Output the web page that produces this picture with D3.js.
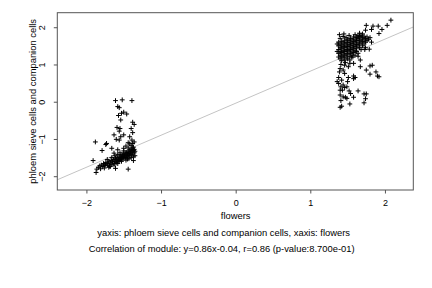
<!DOCTYPE html>
<html>
<head>
<meta charset="utf-8">
<script src="https://cdn.jsdelivr.net/npm/d3@7"></script>
<style>
  body { margin: 0; background: #fff; }
  text { font-family: "Liberation Sans", Arial, sans-serif; }
</style>
</head>
<body>
<div id="container"></div>
<script>
/* DATA */
const xTicks = [-2, -1, 0, 1, 2];
const yTicks = [-2, -1, 0, 1, 2];
const xLabel = "flowers";
const yLabel = "phloem sieve cells and companion cells";
const subtitle1 = "yaxis: phloem sieve cells and companion cells, xaxis: flowers";
const subtitle2 = "Correlation of module: y=0.86x-0.04, r=0.86 (p-value:8.700e-01)";
const slope = 0.86, intercept = -0.04;

// left cluster (x, y pairs)
const leftX = [-1.61,-1.52,-1.39,-1.58,-1.56,-1.50,-1.53,-1.57,-1.46,-1.54,-1.38,-1.36,-1.59,-1.55,-1.56,-1.40,-1.63,-1.54,-1.50,-1.60,-1.56,-1.42,-1.38,-1.39,-1.88,-1.73,-1.74,-1.79,-1.66,-1.63,-1.58,-1.50,-1.47,-1.44,-1.42,-1.87,-1.86,-1.91,-1.75,-1.68,-1.61,-1.44,-1.37,-1.45,
  -1.84,-1.82,-1.80,-1.78,-1.77,-1.75,-1.74,-1.72,-1.71,-1.70,-1.69,-1.68,-1.67,-1.66,-1.65,-1.64,-1.63,-1.62,-1.61,-1.60,-1.60,-1.59,-1.58,-1.57,-1.56,-1.56,-1.55,-1.54,-1.54,-1.53,-1.52,-1.52,-1.51,-1.50,-1.50,-1.49,-1.48,-1.48,-1.47,-1.46,-1.46,-1.45,-1.44,-1.44,-1.43,-1.42,-1.42,-1.41,-1.40,-1.40,-1.39,-1.38,-1.38,-1.37,-1.37,-1.36,-1.36,-1.35,-1.35,-1.37,-1.40,-1.43,-1.47,-1.53,-1.58,-1.63,-1.70,-1.76,-1.81,-1.72,-1.66,-1.58,-1.50,-1.44,-1.40,-1.38,-1.36,-1.62,-1.55];
const leftY = [0.03,0.05,0.03,-0.13,-0.16,-0.28,-0.31,-0.37,-0.33,-0.49,-0.55,-0.61,-0.69,-0.72,-0.79,-0.72,-0.89,-0.94,-0.89,-1.01,-1.03,-0.94,-0.83,-1.03,-1.08,-1.12,-1.15,-1.31,-1.25,-1.38,-1.29,-1.25,-1.19,-1.10,-1.13,-1.90,-1.81,-1.58,-1.71,-1.74,-1.79,-1.81,-1.58,-1.54,
  -1.76,-1.72,-1.70,-1.74,-1.66,-1.68,-1.63,-1.70,-1.66,-1.60,-1.73,-1.64,-1.58,-1.68,-1.61,-1.55,-1.66,-1.60,-1.52,-1.63,-1.57,-1.50,-1.61,-1.55,-1.48,-1.58,-1.52,-1.45,-1.56,-1.50,-1.42,-1.54,-1.47,-1.40,-1.52,-1.45,-1.38,-1.50,-1.43,-1.36,-1.48,-1.41,-1.33,-1.46,-1.39,-1.30,-1.44,-1.36,-1.28,-1.42,-1.34,-1.25,-1.40,-1.31,-1.22,-1.37,-1.28,-1.33,-1.45,-1.48,-1.50,-1.53,-1.57,-1.60,-1.66,-1.70,-1.76,-1.78,-1.80,-1.55,-1.50,-1.42,-1.32,-1.24,-1.18,-1.12,-1.08,-1.45,-1.37];

// right cluster (x, y pairs)
const rightX = [2.08,2.03,1.91,1.84,1.75,1.96,1.92,1.82,1.74,1.79,1.73,1.83,1.80,1.75,1.80,1.88,1.90,1.92,1.67,1.67,1.58,1.64,1.72,1.75,1.74,1.72,1.64,1.58,1.53,1.49,1.52,1.54,1.47,1.41,1.40,1.42,1.44,1.40,1.41,1.44,1.42,1.38,1.50,1.51,1.58,1.60,1.58,1.46,1.39,1.44,1.51,1.53,1.46,1.40,1.43,1.46,1.40,1.38,1.49,1.36,
  1.38,1.38,1.38,1.38,1.38,1.40,1.40,1.40,1.40,1.40,1.40,1.42,1.42,1.42,1.42,1.42,1.42,1.44,1.44,1.44,1.44,1.44,1.44,1.46,1.46,1.46,1.46,1.46,1.46,1.48,1.48,1.48,1.48,1.48,1.48,1.50,1.50,1.50,1.50,1.50,1.50,1.52,1.52,1.52,1.52,1.52,1.52,1.54,1.54,1.54,1.54,1.54,1.56,1.56,1.56,1.56,1.56,1.58,1.58,1.58,1.58,1.58,1.60,1.60,1.60,1.60,1.60,1.62,1.62,1.62,1.62,1.64,1.64,1.64,1.64,1.66,1.66,1.66,1.66,1.68,1.68,1.68,1.70,1.70,1.70,1.72,1.72,1.72,1.74,1.74,1.76,1.76,1.78,1.70,1.66,1.62,1.57,1.53,1.47,1.41,1.36,1.36,1.39,1.45,1.55,1.60,1.64,1.68,1.74,1.80,1.82];
const rightY = [2.19,2.05,2.03,2.03,2.05,1.94,1.83,1.94,1.92,1.41,1.40,0.98,0.96,0.85,0.74,0.80,0.69,0.67,1.12,0.94,1.03,1.22,0.21,0.21,0.08,-0.03,0.29,0.12,-0.06,0.09,0.29,0.22,0.12,0.03,-0.15,-0.12,0.13,0.31,0.40,0.45,0.58,0.65,0.54,0.65,0.69,0.65,0.62,0.76,0.80,0.85,0.94,1.03,0.98,0.89,0.31,0.38,0.18,0.49,0.40,0.54,
  1.20,1.30,1.40,1.50,1.60,1.15,1.25,1.35,1.45,1.55,1.70,1.10,1.22,1.32,1.42,1.52,1.62,1.18,1.28,1.38,1.48,1.58,1.75,1.12,1.25,1.35,1.45,1.55,1.65,1.20,1.30,1.40,1.50,1.60,1.72,1.15,1.28,1.38,1.48,1.58,1.68,1.22,1.34,1.44,1.54,1.64,1.78,1.30,1.40,1.50,1.60,1.70,1.25,1.36,1.46,1.56,1.66,1.32,1.42,1.52,1.62,1.74,1.38,1.48,1.58,1.68,1.80,1.44,1.54,1.64,1.72,1.50,1.60,1.70,1.78,1.55,1.65,1.75,1.84,1.58,1.68,1.78,1.62,1.72,1.82,1.55,1.66,1.76,1.60,1.70,1.64,1.74,1.68,1.50,1.45,1.35,1.20,1.12,1.05,1.00,1.35,1.55,1.80,1.82,1.20,1.25,1.30,1.40,1.45,1.72,1.60];

/* LAYOUT */
const width = 432, height = 288;
const plot = { left: 57.3, right: 413.3, top: 12.7, bottom: 190 };

const xScale = d3.scaleLinear().domain([-2.39, 2.38]).range([plot.left, plot.right]);
const yScale = d3.scaleLinear().domain([-2.37, 2.39]).range([plot.bottom, plot.top]);

const svg = d3.select("#container")
  .append("svg")
  .attr("width", width)
  .attr("height", height);

// regression line, clipped to the plot box
svg.append("clipPath").attr("id", "clip")
  .append("rect")
  .attr("x", plot.left).attr("y", plot.top)
  .attr("width", plot.right - plot.left).attr("height", plot.bottom - plot.top);

const xd = xScale.domain();
svg.append("line")
  .attr("clip-path", "url(#clip)")
  .attr("x1", xScale(xd[0])).attr("y1", yScale(slope * xd[0] + intercept))
  .attr("x2", xScale(xd[1])).attr("y2", yScale(slope * xd[1] + intercept))
  .attr("stroke", "#c4c4c4")
  .attr("stroke-width", 1);

// points as "+" symbols
const points = leftX.map((x, i) => ({ x, y: leftY[i] }))
  .concat(rightX.map((x, i) => ({ x, y: rightY[i] })));

svg.selectAll(".pt")
  .data(points)
  .join("path")
  .attr("class", "pt")
  .attr("d", "M-2.4,0H2.4M0,-2.4V2.4")
  .attr("transform", d => `translate(${xScale(d.x)},${yScale(d.y)})`)
  .attr("stroke", "#000")
  .attr("stroke-width", 1)
  .attr("fill", "none");

// frame
svg.append("rect")
  .attr("x", plot.left).attr("y", plot.top)
  .attr("width", plot.right - plot.left).attr("height", plot.bottom - plot.top)
  .attr("fill", "none")
  .attr("stroke", "#555")
  .attr("stroke-width", 1);

// axes
const xAxis = svg.append("g")
  .attr("transform", `translate(0,${plot.bottom})`)
  .call(d3.axisBottom(xScale).tickValues(xTicks).tickSize(3.5).tickPadding(6).tickFormat(d3.format("d")));
const yAxis = svg.append("g")
  .attr("transform", `translate(${plot.left},0)`)
  .call(d3.axisLeft(yScale).tickValues(yTicks).tickSize(3.5).tickPadding(6).tickFormat(d3.format("d")));

[xAxis, yAxis].forEach(g => {
  g.select(".domain").remove();
  g.selectAll(".tick line").attr("stroke", "#555");
  g.selectAll(".tick text").attr("font-size", 9).attr("fill", "#000")
    .style("font-family", "'Liberation Sans', Arial, sans-serif");
});
yAxis.selectAll(".tick text")
  .attr("text-anchor", "middle")
  .attr("dy", null)
  .attr("x", null)
  .attr("transform", `translate(-12,0) rotate(-90)`);

// labels
const fs = 9.4;
svg.append("text")
  .attr("x", xScale(0)).attr("y", 219)
  .attr("text-anchor", "middle").attr("font-size", fs)
  .text(xLabel);
svg.append("text")
  .attr("transform", `translate(36,${(plot.top + plot.bottom) / 2}) rotate(-90)`)
  .attr("text-anchor", "middle").attr("font-size", fs)
  .text(yLabel);
svg.append("text")
  .attr("x", xScale(0) - 12).attr("y", 236)
  .attr("text-anchor", "middle").attr("font-size", fs)
  .text(subtitle1);
svg.append("text")
  .attr("x", xScale(0) - 14).attr("y", 252)
  .attr("text-anchor", "middle").attr("font-size", fs)
  .text(subtitle2);
</script>
</body>
</html>
